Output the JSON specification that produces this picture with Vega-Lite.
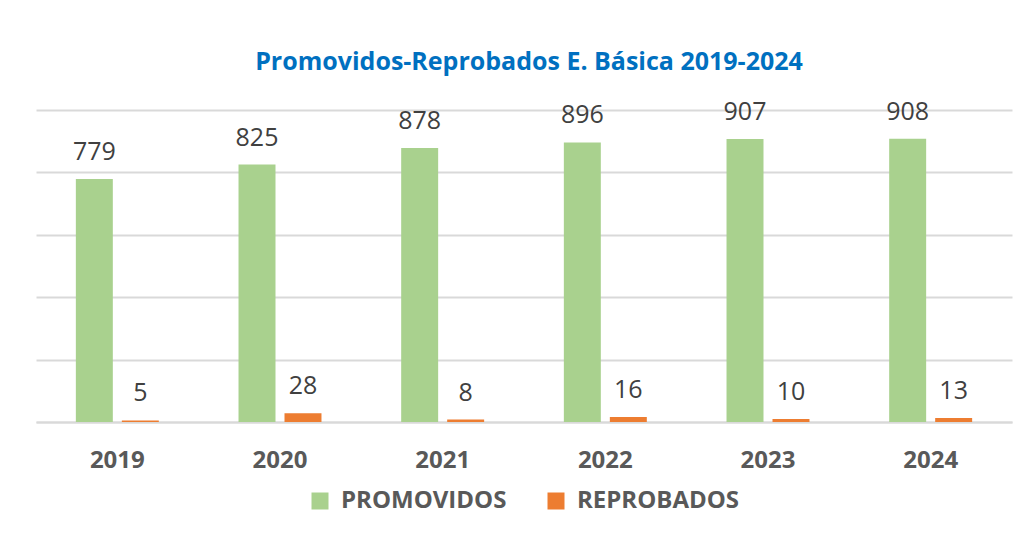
{
  "$schema": "https://vega.github.io/schema/vega-lite/v6.json",
  "width": 976,
  "height": 312,
  "autosize": {"type": "none"},
  "padding": {"left": 36, "top": 110, "right": 19, "bottom": 114},
  "background": "white",
  "config": {
    "view": {"stroke": null},
    "legend": {"layout": {"bottom": {"anchor": "middle"}}}
  },
  "title": {
    "text": "Promovidos-Reprobados E. Básica 2019-2024",
    "font": "Open Sans",
    "fontSize": 25,
    "fontWeight": "bold",
    "color": "#0070C0",
    "anchor": "middle",
    "frame": "group",
    "baseline": "alphabetic",
    "offset": 5,
    "dx": 5
  },
  "data": {
    "values": [
      {"year": "2019", "serie": "PROMOVIDOS", "value": 779},
      {"year": "2019", "serie": "REPROBADOS", "value": 5},
      {"year": "2020", "serie": "PROMOVIDOS", "value": 825},
      {"year": "2020", "serie": "REPROBADOS", "value": 28},
      {"year": "2021", "serie": "PROMOVIDOS", "value": 878},
      {"year": "2021", "serie": "REPROBADOS", "value": 8},
      {"year": "2022", "serie": "PROMOVIDOS", "value": 896},
      {"year": "2022", "serie": "REPROBADOS", "value": 16},
      {"year": "2023", "serie": "PROMOVIDOS", "value": 907},
      {"year": "2023", "serie": "REPROBADOS", "value": 10},
      {"year": "2024", "serie": "PROMOVIDOS", "value": 908},
      {"year": "2024", "serie": "REPROBADOS", "value": 13}
    ]
  },
  "encoding": {
    "x": {
      "field": "year",
      "type": "nominal",
      "scale": {"paddingInner": 0.49, "paddingOuter": 0.245},
      "axis": {
        "title": null,
        "labelAngle": 0,
        "labelFont": "Open Sans",
        "labelFontSize": 24,
        "labelFontWeight": "bold",
        "labelColor": "#595959",
        "labelBaseline": "alphabetic",
        "labelPadding": 45,
        "ticks": false,
        "tickSize": 0,
        "domain": true,
        "domainColor": "#D9D9D9",
        "domainWidth": 2
      }
    },
    "xOffset": {
      "field": "serie",
      "type": "nominal",
      "sort": ["PROMOVIDOS", "REPROBADOS"],
      "scale": {"paddingInner": 0.196, "paddingOuter": 0}
    },
    "y": {
      "field": "value",
      "type": "quantitative",
      "scale": {"domain": [0, 1000], "nice": false},
      "axis": {
        "title": null,
        "labels": false,
        "ticks": false,
        "domain": false,
        "values": [0, 200, 400, 600, 800, 1000],
        "gridColor": "#D9D9D9",
        "gridWidth": 2
      }
    }
  },
  "layer": [
    {
      "mark": {"type": "bar"},
      "encoding": {
        "color": {
          "field": "serie",
          "type": "nominal",
          "sort": ["PROMOVIDOS", "REPROBADOS"],
          "scale": {"domain": ["PROMOVIDOS", "REPROBADOS"], "range": ["#A9D18E", "#ED7D31"]},
          "legend": {
            "title": null,
            "orient": "bottom",
            "direction": "horizontal",
            "symbolType": "square",
            "symbolSize": 289,
            "symbolStrokeWidth": 0,
            "labelFont": "Open Sans",
            "labelFontSize": 24,
            "labelFontWeight": "bold",
            "labelColor": "#595959",
            "labelOffset": 9,
            "columnPadding": 37,
            "labelLimit": 400,
            "offset": 17
          }
        }
      }
    },
    {
      "mark": {
        "type": "text",
        "dy": -19,
        "baseline": "alphabetic",
        "font": "Open Sans",
        "fontSize": 25,
        "color": "#404040"
      },
      "encoding": {
        "text": {"field": "value", "type": "quantitative"}
      }
    }
  ]
}
